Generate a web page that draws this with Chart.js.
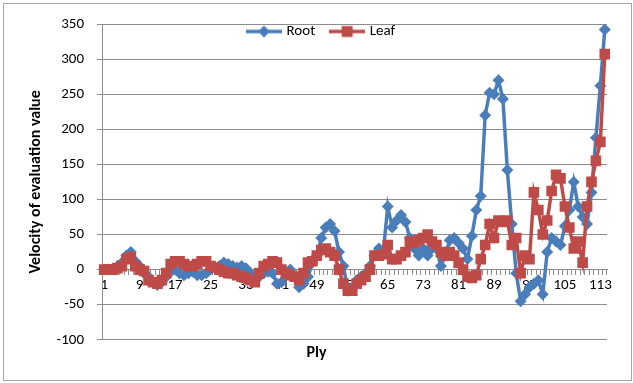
<!DOCTYPE html>
<html>
<head>
<meta charset="utf-8">
<script src="https://cdn.jsdelivr.net/npm/chart.js@4.4.0/dist/chart.umd.min.js"></script>
<style>
body { margin: 0; background: #fff; }
</style>
</head>
<body>
<canvas id="line_chart" width="633" height="383"></canvas>
<script>
var plies = [];
for (var i = 1; i <= 114; i++) plies.push(String(i));

var tickLabels = ['1', '9', '17', '25', '33', '41', '49', '57', '65', '73', '81', '89', '97', '105', '113'];

var root = [
    0, 0, 2, 5, 10, 20, 25, 12, 5, -5,
    -10, -18, -22, -18, -10, -3, 0, -5, -8, -5,
    -3, -8, -8, -5, 0, 3, 5, 10, 8, 5,
    3, 5, 2, -5, -8, -10, -5, -3, -5, -20,
    -18, -5, 0, -10, -25, -20, -10, 10, 20, 45,
    60, 65, 55, 25, 5, -30, -25, -15, -10, -5,
    5, 20, 30, 25, 90, 60, 70, 78, 68, 45,
    30, 20, 30, 20, 30, 30, 5, 20, 42, 45,
    38, 30, 15, 48, 85, 105, 220, 252, 250, 270,
    243, 142, 65, -5, -45, -35, -25, -20, -15, -35,
    25, 45, 40, 35, 62, 85, 125, 90, 75, 65,
    110, 188, 262, 342
];

var leaf = [
    0, 0, 0, 2, 5, 15, 18, 5, 0, -2,
    -15, -18, -20, -15, -5, 8, 12, 12, 8, 5,
    5, 8, 12, 12, 5, 3, 0, -3, -5, -5,
    -8, -10, -12, -15, -18, -5, 5, 8, 12, 10,
    0, -5, -8, -10, -15, -5, 10, 12, 20, 28,
    30, 25, 20, 0, -20, -30, -30, -20, -15, -10,
    0, 20, 20, 22, 35, 15, 15, 20, 25, 40,
    38, 42, 45, 50, 40, 35, 25, 20, 25, 20,
    10, 0, -10, -12, -8, 15, 35, 65, 45, 70,
    68, 70, 35, 45, -5, 20, 15, 110, 85, 50,
    70, 112, 135, 130, 90, 60, 30, 40, 10, 90,
    125, 155, 182, 307
];

var blue = '#4A7EBB';
var red = '#BE4B48';
var gray = '#8C8C8C';

Chart.defaults.font.family = 'Carlito, Lato, sans-serif';
Chart.defaults.color = '#000';

// little line + marker glyphs for the legend
function legendMark(color, shape) {
    var c = document.createElement('canvas');
    c.width = 36;
    c.height = 14;
    var ctx = c.getContext('2d');
    ctx.strokeStyle = color;
    ctx.lineWidth = 3.5;
    ctx.beginPath();
    ctx.moveTo(0, 7);
    ctx.lineTo(36, 7);
    ctx.stroke();
    ctx.fillStyle = color;
    if (shape === 'diamond') {
        ctx.beginPath();
        ctx.moveTo(18, 1);
        ctx.lineTo(24, 7);
        ctx.lineTo(18, 13);
        ctx.lineTo(12, 7);
        ctx.closePath();
        ctx.fill();
    } else {
        ctx.fillRect(12.5, 1.5, 11, 11);
    }
    return c;
}
var marks = [legendMark(blue, 'diamond'), legendMark(red, 'square')];

// Excel puts the legend inside the plot, so take it out of the layout and place it by hand
var placeLegend = {
    id: 'placeLegend',
    beforeLayout: function (chart) {
        var lg = chart.legend;
        if (lg && !lg._flat) {
            var fit = lg.fit;
            lg.fit = function () { fit.call(this); this.height = 0; };
            lg._flat = true;
        }
    },
    afterLayout: function (chart) {
        var lg = chart.legend;
        lg.left = 232;
        lg.right = 633;
        lg.top = 7;
        lg.bottom = 60;
    }
};

var frame = {
    id: 'frame',
    beforeDraw: function (chart) {
        var ctx = chart.ctx;
        ctx.save();
        ctx.fillStyle = '#fff';
        ctx.fillRect(0, 0, chart.width, chart.height);
        ctx.strokeStyle = '#A6A6A6';
        ctx.lineWidth = 1;
        ctx.strokeRect(3.5, 3.5, 628, 377);
        ctx.restore();
    }
};

new Chart(document.getElementById('line_chart').getContext('2d'), {
    type: 'line',
    data: {
        labels: plies,
        datasets: [{
            label: 'Root',
            data: root,
            borderColor: blue,
            backgroundColor: blue,
            borderWidth: 3.5,
            pointStyle: 'rectRot',
            pointRadius: 6,
            pointBorderWidth: 0,
            tension: 0,
            order: 2
        }, {
            label: 'Leaf',
            data: leaf,
            borderColor: red,
            backgroundColor: red,
            borderWidth: 3.5,
            pointStyle: 'rect',
            pointRadius: 7.5,
            pointBorderWidth: 0,
            tension: 0,
            order: 1
        }]
    },
    options: {
        responsive: false,
        animation: false,
        layout: { padding: { left: 26, right: 26, top: 24, bottom: 0 } },
        scales: {
            x: {
                position: { y: 0 },
                offset: true,
                grid: { drawOnChartArea: false, drawTicks: true, tickLength: 5, offset: true, color: gray },
                border: { display: true, color: gray },
                ticks: {
                    autoSkip: false,
                    maxRotation: 0,
                    padding: 2,
                    font: { size: 15 },
                    callback: function (val, idx) {
                        var l = plies[idx];
                        return tickLabels.indexOf(l) >= 0 ? l : '';
                    }
                }
            },
            y: {
                min: -100,
                max: 350,
                ticks: { stepSize: 50, padding: 13, font: { size: 15 } },
                grid: { color: gray, tickLength: 5 },
                border: { display: true, color: gray },
                title: {
                    display: true,
                    text: 'Velocity of evaluation value',
                    font: { size: 16, weight: 'bold' },
                    padding: 0
                },
                afterFit: function (scale) { scale.width = 76; }
            }
        },
        plugins: {
            legend: {
                position: 'top',
                align: 'start',
                labels: {
                    usePointStyle: true,
                    pointStyleWidth: 30,
                    padding: 17,
                    font: { size: 15 },
                    generateLabels: function (chart) {
                        var items = Chart.defaults.plugins.legend.labels.generateLabels(chart);
                        items.forEach(function (it) { it.pointStyle = marks[it.datasetIndex]; });
                        return items;
                    },
                    sort: function (a, b) { return a.datasetIndex - b.datasetIndex; }
                }
            },
            title: {
                display: true,
                text: 'Ply',
                position: 'bottom',
                font: { size: 16, weight: 'bold' },
                padding: { top: 4, bottom: 20 }
            },
            tooltip: { enabled: false }
        }
    },
    plugins: [frame, placeLegend]
});
</script>
</body>
</html>
